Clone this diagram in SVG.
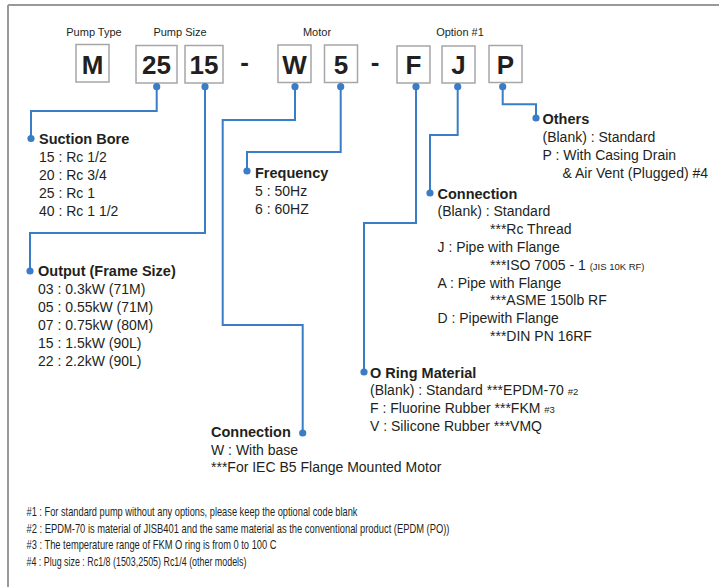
<svg xmlns="http://www.w3.org/2000/svg" width="719" height="587" viewBox="0 0 719 587">
<style>
text{font-family:"Liberation Sans",Arial,sans-serif;fill:#231f20}
.lbl{font-size:11px;text-anchor:middle}
.box{fill:#fff;stroke:#a6a6a6;stroke-width:1.5}
.code{font-size:26px;font-weight:bold;text-anchor:middle}
.h{font-size:14.5px;font-weight:bold}
.t{font-size:14px}
.s{font-size:9.5px}
.fn{font-size:13.5px}
.wire{fill:none;stroke:#3a7cc6;stroke-width:2}
.dot{fill:#3a7cc6}
</style>
<path d="M8 5H719M8 5V587" fill="none" stroke="#999" stroke-width="2"/>
<g id="labels">
<text class="lbl" x="94" y="36">Pump Type</text>
<text class="lbl" x="180" y="36">Pump Size</text>
<text class="lbl" x="317" y="36">Motor</text>
<text class="lbl" x="460" y="36">Option #1</text>
</g>
<g id="box-M"><rect class="box" x="76" y="44.5" width="33" height="37.5"/><text class="code" x="92.5" y="74">M</text></g>
<g id="box-25"><rect class="box" x="136" y="45.5" width="41" height="37.5"/><text class="code" x="156.5" y="74">25</text></g>
<g id="box-15"><rect class="box" x="185" y="45.5" width="38" height="37.5"/><text class="code" x="204" y="74">15</text></g>
<g id="dash1"><text class="code" x="244.5" y="71">-</text></g>
<g id="box-W"><rect class="box" x="278" y="45" width="33" height="37.5"/><text class="code" x="294.5" y="74">W</text></g>
<g id="box-5"><rect class="box" x="324.5" y="45" width="33" height="37.5"/><text class="code" x="341" y="74">5</text></g>
<g id="dash2"><text class="code" x="375" y="71">-</text></g>
<g id="box-F"><rect class="box" x="397" y="46" width="33" height="37"/><text class="code" x="413.5" y="74">F</text></g>
<g id="box-J"><rect class="box" x="442" y="46" width="33" height="37"/><text class="code" x="458.5" y="74">J</text></g>
<g id="box-P"><rect class="box" x="489" y="45.5" width="33" height="37"/><text class="code" x="505.5" y="74">P</text></g>

<g id="connectors">
<path class="wire" d="M156.7 87V111H31V138"/>
<path class="wire" d="M205 87V233H30V271"/>
<path class="wire" d="M295 87V120H222.7V325H302.7V433"/>
<path class="wire" d="M340.7 87V152H247V171"/>
<path class="wire" d="M416 87V223H364V372"/>
<path class="wire" d="M457.7 87V135H430V193"/>
<path class="wire" d="M502.7 87V104.3H536V118"/>
<g class="dot">
<circle cx="156.7" cy="86.7" r="3.6"/><circle cx="205" cy="86.7" r="3.6"/><circle cx="295" cy="86.7" r="3.6"/><circle cx="340.7" cy="86.7" r="3.6"/><circle cx="416" cy="86.7" r="3.6"/><circle cx="457.7" cy="86.7" r="3.6"/><circle cx="502.7" cy="86.7" r="3.6"/>
<circle cx="31" cy="138.5" r="3.6"/><circle cx="30" cy="271" r="3.6"/><circle cx="302.7" cy="433" r="3.6"/><circle cx="247" cy="171" r="3.6"/><circle cx="364" cy="372" r="3.6"/><circle cx="430" cy="193" r="3.6"/><circle cx="536" cy="118" r="3.6"/>
</g>
</g>

<g id="suction-bore">
<text class="h" x="39" y="144">Suction Bore</text>
<text class="t" x="39" y="161.5">15 : Rc 1/2</text>
<text class="t" x="39" y="179.5">20 : Rc 3/4</text>
<text class="t" x="39" y="197.5">25 : Rc 1</text>
<text class="t" x="39" y="215.5">40 : Rc 1 1/2</text>
</g>
<g id="output">
<text class="h" x="38" y="276">Output (Frame Size)</text>
<text class="t" x="38" y="293.5">03 : 0.3kW (71M)</text>
<text class="t" x="38" y="311.5">05 : 0.55kW (71M)</text>
<text class="t" x="38" y="329.5">07 : 0.75kW (80M)</text>
<text class="t" x="38" y="347.5">15 : 1.5kW (90L)</text>
<text class="t" x="38" y="365.5">22 : 2.2kW (90L)</text>
</g>
<g id="frequency">
<text class="h" x="255" y="177.5">Frequency</text>
<text class="t" x="255" y="195.5">5 : 50Hz</text>
<text class="t" x="255" y="213.5">6 : 60HZ</text>
</g>
<g id="connection-w">
<text class="h" x="211" y="437">Connection</text>
<text class="t" x="211" y="454.5">W : With base</text>
<text class="t" x="211" y="472">***For IEC B5 Flange Mounted Motor</text>
</g>
<g id="o-ring">
<text class="h" x="370" y="377.5">O Ring Material</text>
<text class="t" x="370" y="395">(Blank) : Standard ***EPDM-70 <tspan class="s">#2</tspan></text>
<text class="t" x="370" y="413">F : Fluorine Rubber ***FKM <tspan class="s">#3</tspan></text>
<text class="t" x="370" y="431">V : Silicone Rubber ***VMQ</text>
</g>
<g id="connection-j">
<text class="h" x="437.5" y="198.5">Connection</text>
<text class="t" x="437.5" y="216">(Blank) : Standard</text>
<text class="t" x="490" y="233.5">***Rc Thread</text>
<text class="t" x="437.5" y="251.5">J : Pipe with Flange</text>
<text class="t" x="490" y="269.5">***ISO 7005 - 1 <tspan class="s">(JIS 10K RF)</tspan></text>
<text class="t" x="437.5" y="287.5">A : Pipe with Flange</text>
<text class="t" x="490" y="305">***ASME 150lb RF</text>
<text class="t" x="437.5" y="322.5">D : Pipewith Flange</text>
<text class="t" x="490" y="340.5">***DIN PN 16RF</text>
</g>
<g id="others">
<text class="h" x="542.5" y="124">Others</text>
<text class="t" x="542.5" y="141.5">(Blank) : Standard</text>
<text class="t" x="542.5" y="159.5">P : With Casing Drain</text>
<text class="t" x="562.5" y="177.5">&amp; Air Vent (Plugged) #4</text>
</g>
<g id="footnotes">
<text class="fn" x="26.5" y="515.5" textLength="331" lengthAdjust="spacingAndGlyphs">#1 : For standard pump without any options, please keep the optional code blank</text>
<text class="fn" x="26.5" y="532.5" textLength="423" lengthAdjust="spacingAndGlyphs">#2 : EPDM-70 is material of JISB401 and the same material as the conventional product (EPDM (PO))</text>
<text class="fn" x="26.5" y="549" textLength="250" lengthAdjust="spacingAndGlyphs">#3 : The temperature range of FKM O ring is from 0 to 100 C</text>
<text class="fn" x="26.5" y="566" textLength="220" lengthAdjust="spacingAndGlyphs">#4 : Plug size : Rc1/8 (1503,2505)  Rc1/4 (other models)</text>
</g>
</svg>
